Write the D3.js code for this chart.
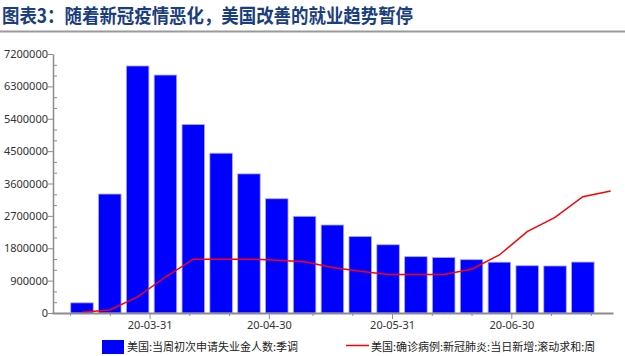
<!DOCTYPE html>
<html><head><meta charset="utf-8">
<script src="https://cdn.jsdelivr.net/npm/d3@7/dist/d3.min.js"></script>
<style>
html,body{margin:0;padding:0;background:#fff;}
svg{display:block;font-family:"Noto Sans CJK SC","Noto Sans",sans-serif;}
</style></head>
<body>
<svg id="chart" width="625" height="356"></svg>
<script>
// ---- data ----
const titleText = "图表3：随着新冠疫情恶化，美国改善的就业趋势暂停";
const barName = "美国:当周初次申请失业金人数:季调";
const lineName = "美国:确诊病例:新冠肺炎:当日新增:滚动求和:周";
const barDates = ["2020-03-14","2020-03-21","2020-03-28","2020-04-04","2020-04-11","2020-04-18","2020-04-25","2020-05-02","2020-05-09","2020-05-16","2020-05-23","2020-05-30","2020-06-06","2020-06-13","2020-06-20","2020-06-27","2020-07-04","2020-07-11","2020-07-18"];
const claims = [282000,3307000,6867000,6615000,5237000,4442000,3867000,3176000,2687000,2446000,2123000,1897000,1566000,1540000,1482000,1413000,1314000,1307000,1416000];
const lineDates = ["2020-03-14","2020-03-21","2020-03-28","2020-04-04","2020-04-11","2020-04-18","2020-04-25","2020-05-02","2020-05-09","2020-05-16","2020-05-23","2020-05-30","2020-06-06","2020-06-13","2020-06-20","2020-06-27","2020-07-04","2020-07-11","2020-07-18","2020-07-25"];
const cases = [2700,12000,62000,139000,208000,208000,208000,204000,198000,176000,161000,149000,149000,149000,169000,224000,314000,369000,449000,471000];
const yTicks = [0,900000,1800000,2700000,3600000,4500000,5400000,6300000,7200000];
const yMinorTicks = [300000,600000,1200000,1500000,2100000,2400000,3000000,3300000,3900000,4200000,4800000,5100000,5700000,6000000,6600000,6900000];
const xMajorTicks = ["2020-03-31","2020-04-30","2020-05-31","2020-06-30"];
const xMinorTicks = ["2020-03-11","2020-03-21","2020-04-10","2020-04-20","2020-05-11","2020-05-21","2020-06-10","2020-06-20","2020-07-10","2020-07-20"];

// ---- layout ----
const parse = d3.utcParse("%Y-%m-%d");
const svg = d3.select("#chart");
const mLeft = 53, mRight = 613, mTop = 54, mBottom = 313;
const axisColor = "#8c8c8c";

const x = d3.scaleUtc()
  .domain([new Date(Date.UTC(2020,2,6,11)), new Date(Date.UTC(2020,6,25,14))])
  .range([mLeft - 1, mRight]);
const y = d3.scaleLinear().domain([0, 7200000]).range([mBottom, mTop]);
const y2 = d3.scaleLinear().domain([0, 1000000]).range([mBottom, mTop]);

// title
svg.append("text").attr("x", 2).attr("y", 23)
  .attr("font-size", 19.5).attr("font-weight", "bold").attr("fill", "#1b3e7e")
  .attr("textLength", 411).attr("lengthAdjust", "spacingAndGlyphs")
  .text(titleText);
svg.append("line").attr("x1", 0).attr("x2", 625).attr("y1", 31.5).attr("y2", 31.5)
  .attr("stroke", "#9a9a9a").attr("stroke-width", 2);

// bars
const bw = 22.5;
svg.append("g").selectAll("rect").data(claims).join("rect")
  .attr("x", (d, i) => x(parse(barDates[i])) - bw / 2)
  .attr("y", d => y(d))
  .attr("width", bw)
  .attr("height", d => y(0) - y(d))
  .attr("fill", "#0000ff")
  .attr("stroke", "#a8a8ff").attr("stroke-width", 0.8);

// line
const line = d3.line().x((d, i) => x(parse(lineDates[i]))).y(d => y2(d));
svg.append("path").datum(cases).attr("d", line)
  .attr("fill", "none").attr("stroke", "#ff0000").attr("stroke-width", 1.5);

// y axis
const gy = svg.append("g").attr("transform", `translate(${mLeft},0)`)
  .call(d3.axisLeft(y).tickValues(yTicks).tickSize(5).tickSizeOuter(0).tickFormat(d3.format("d")));
gy.select(".domain").attr("stroke", axisColor).attr("stroke-width", 1.5);
gy.selectAll(".tick line").attr("stroke", axisColor);
gy.selectAll(".tick text").attr("font-size", 11).attr("fill", "#333").attr("x", -5)
  .attr("font-family", "'Noto Sans','Noto Sans CJK SC',sans-serif");
const gym = svg.append("g").attr("transform", `translate(${mLeft},0)`)
  .call(d3.axisRight(y).tickValues(yMinorTicks).tickSize(4).tickFormat(""));
gym.select(".domain").remove();
gym.selectAll(".tick line").attr("stroke", axisColor);

// x axis
const gx = svg.append("g").attr("transform", `translate(0,${mBottom})`)
  .call(d3.axisBottom(x).tickValues(xMajorTicks.map(parse)).tickSize(6).tickSizeOuter(0)
    .tickFormat(d3.utcFormat("%y-%m-%d")));
gx.select(".domain").attr("stroke", axisColor).attr("stroke-width", 2);
gx.selectAll(".tick line").attr("stroke", axisColor);
gx.selectAll(".tick text").attr("font-size", 11).attr("fill", "#333").attr("y", 8)
  .attr("font-family", "'Noto Sans','Noto Sans CJK SC',sans-serif");
const gxm = svg.append("g").attr("transform", `translate(0,${mBottom})`)
  .call(d3.axisBottom(x).tickValues(xMinorTicks.map(parse)).tickSize(3).tickFormat(""));
gxm.select(".domain").remove();
gxm.selectAll(".tick line").attr("stroke", axisColor);

// legend
const lg = svg.append("g");
lg.append("rect").attr("x", 102).attr("y", 340).attr("width", 22).attr("height", 14).attr("fill", "#0000ff");
lg.append("text").attr("x", 127).attr("y", 351).attr("font-size", 11).attr("fill", "#222").text(barName);
lg.append("line").attr("x1", 346).attr("x2", 369).attr("y1", 345.5).attr("y2", 345.5)
  .attr("stroke", "#ff0000").attr("stroke-width", 1.5);
lg.append("text").attr("x", 371).attr("y", 351).attr("font-size", 11).attr("fill", "#222").text(lineName);
</script>
</body></html>
